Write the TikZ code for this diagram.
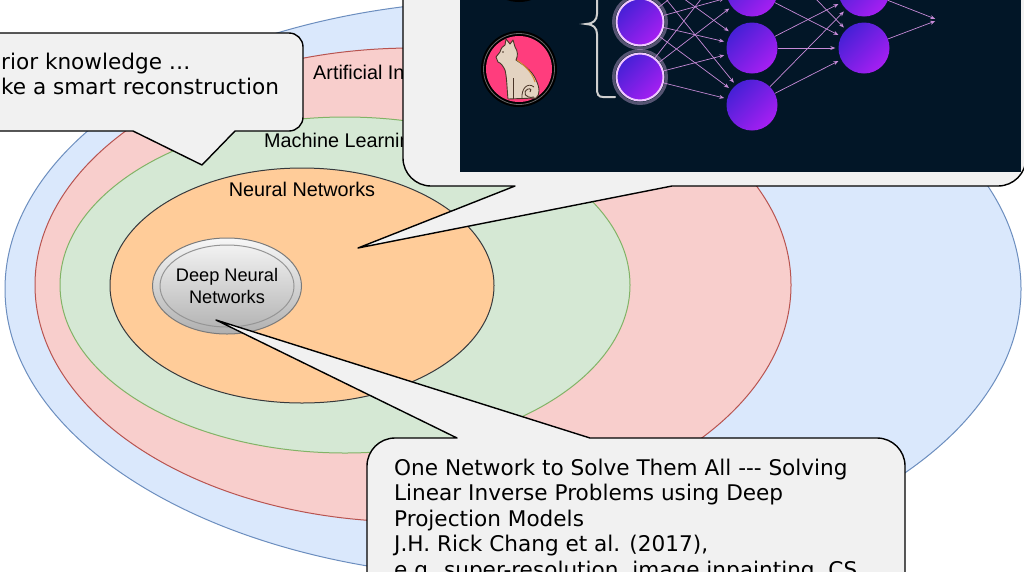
\documentclass[tikz,border=0pt]{standalone}
\usepackage{fontspec}
\setmainfont{Liberation Sans}
\newfontfamily\calloutfont{DejaVu Sans}
\usetikzlibrary{arrows.meta,shapes.geometric}

\definecolor{skyfill}{HTML}{DAE8FC}\definecolor{skyline}{HTML}{6C8EBF}
\definecolor{rosefill}{HTML}{F8CECC}\definecolor{roseline}{HTML}{B85450}
\definecolor{mintfill}{HTML}{D5E8D4}\definecolor{mintline}{HTML}{82B366}
\definecolor{peachfill}{HTML}{FFCC99}\definecolor{peachline}{HTML}{36393D}
\definecolor{dnnlight}{HTML}{F7F7F7}\definecolor{dnndark}{HTML}{B0B0B0}
\definecolor{dnnline}{HTML}{7A7A7A}
\definecolor{bubblegray}{HTML}{F1F1F1}
\definecolor{panel}{HTML}{021627}
\definecolor{cellblue}{HTML}{4620D6}\definecolor{cellpink}{HTML}{A61FF2}
\definecolor{cellrim}{HTML}{F0C8FF}
\definecolor{wire}{HTML}{C78AD8}
\definecolor{iconpink}{HTML}{FF3D7D}
\definecolor{catbody}{HTML}{E3D3C1}\definecolor{catline}{HTML}{4A3528}
\definecolor{catfur}{HTML}{D98A3A}
\definecolor{bracegray}{HTML}{CFCFCF}

\begin{document}
\begin{tikzpicture}[x=1pt,y=-1pt,>=Stealth,
  fieldtitle/.style={font=\fontsize{19.8}{23}\selectfont,inner sep=0pt},
  bubble/.style={fill=bubblegray,draw=black,line width=1.4pt,line join=round},
  bubbletext/.style={font=\calloutfont\fontsize{21.6}{25.5}\selectfont,align=left,inner sep=0pt,anchor=north west},
  cell/.style={circle,minimum size=51pt,inner sep=0pt,top color=cellblue,bottom color=cellpink,shading angle=45},
  incell/.style={cell,minimum size=47pt,draw=cellrim,line width=2pt},
  synapse/.style={->,draw=wire,line width=0.7pt,shorten >=3pt,>={Stealth[length=5pt,width=4pt]}}]
\useasboundingbox (0,0) rectangle (1024,571);
\clip (0,0) rectangle (1024,571);
\fill[white] (0,0) rectangle (1024,571);

\foreach \cx/\cy/\rx/\ry/\fc/\dc in {
  513/289/508/289/skyfill/skyline,
  413/285/378/237/rosefill/roseline,
  345/285/285/168/mintfill/mintline,
  302/285.5/192/117.5/peachfill/peachline%
}{
  \draw[fill=\fc,draw=\dc,line width=1pt] (\cx,\cy) ellipse [x radius=\rx,y radius=\ry];
}
\node[fieldtitle,anchor=west] (ai) at (313,74) {Artificial Intelligence};
\node[fieldtitle,anchor=west] (ml) at (264,142) {Machine Learning};
\node[fieldtitle] (nn) at (302,189) {Neural Networks};

\node[ellipse,minimum width=149pt,minimum height=96pt,inner sep=0pt,top color=dnnlight,bottom color=dnndark,
  draw=dnnline,line width=1pt,align=center,font=\fontsize{18.2}{22}\selectfont] (dnn) at (227,286) {Deep Neural\\Networks};
\draw[dnnline!80,line width=1pt] (dnn.center) ellipse [x radius=67,y radius=41];

\coordinate (mltip) at (202,165);
\coordinate (nntip) at (358,248);
\coordinate (dnntip) at (216,320);

\draw[bubble] (-40,131) [rounded corners=14pt] -- (-40,33) -- (303,33) -- (303,131) [sharp corners] -- (235,131) -- (mltip) -- (133,131) -- cycle;
\draw[bubble] (367,600) [rounded corners=28pt] -- (367,438) [sharp corners] -- (457,438) -- (dnntip) -- (590,438) [rounded corners=28pt] -- (905,438) -- (905,600);
\draw[bubble] (403,-40) [rounded corners=28pt] -- (403,186) [sharp corners] -- (515,186) -- (nntip) -- (672,186) [rounded corners=28pt] -- (1026,186) -- (1026,-40);

\fill[panel] (460,-10) rectangle (1021,172);
\foreach \y in {-36,69}{
  \fill[black] (519,\y) circle (38);
  \draw[black!60,line width=0.8pt] (519,\y) circle (35.5);
  \fill[iconpink] (519,\y) circle (33);
}
\fill[catbody,draw=catline,line width=0.9pt,line join=round]
  (496,57) -- (500,52) .. controls (501,48) and (503,46) .. (505,45) -- (506,39) -- (510,44) -- (513,40) -- (515,47)
  .. controls (518,51) and (518,56) .. (516,60)
  .. controls (522,64) and (532,70) .. (536,80)
  .. controls (540,88) and (540,95) .. (536,98) -- (508,99)
  .. controls (507,90) and (507,78) .. (505,70)
  .. controls (503,66) and (501,63) .. (498,62) -- cycle;
\draw[catfur,line width=1pt] (517,60) .. controls (524,65) and (532,72) .. (535,82);
\fill[catline] (503,52) circle (0.9);
\draw[catline,line width=0.8pt] (513,99) -- (513,78);
\draw[catline,line width=0.8pt] (522,99) .. controls (521,88) and (528,82) .. (534,87);
\draw[catline,line width=0.9pt] (534,97) .. controls (525,99) and (522,92) .. (528,89) .. controls (531,88) and (532,91) .. (530,92);

\draw[bracegray,line width=2pt,line cap=round] (615,97) -- (603,97) .. controls (598,97) and (597,94) .. (597,88)
  -- (597,34) .. controls (597,28) and (593,24) .. (586,24) .. controls (593,24) and (597,20) .. (597,14) -- (597,-60);

\foreach \n/\y in {0/-33,1/22,2/77}{
  \draw[cellrim,opacity=0.35,line width=3pt] (640,\y) circle (26.5);
  \node[incell] (i\n) at (640,\y) {};
}
\foreach \n/\y in {0/-66,1/-9,2/48,3/105}
  \node[cell] (a\n) at (752,\y) {};
\foreach \n/\y in {1/-9,2/48}
  \node[cell] (b\n) at (864,\y) {};
\coordinate (out) at (938,20);
\foreach \s in {0,1,2}
  \foreach \t in {0,...,3}
    \draw[synapse] (i\s) -- (a\t);
\foreach \s in {0,...,3}
  \foreach \t in {1,2}
    \draw[synapse] (a\s) -- (b\t);
\foreach \s in {1,2}
  \draw[synapse] (b\s) -- (out);

\node[bubbletext] (prior) at (1,52.6) {rior knowledge …\\ke a smart reconstruction};
\node[bubbletext] (paper) at (394,458.6) {One Network to Solve Them All -\kern0pt-\kern0pt- Solving\\Linear Inverse Problems using Deep\\Projection Models\\J.H. Rick Chang et al. (2017),\\e.g. super-resolution, image inpainting, CS};
\end{tikzpicture}
\end{document}
